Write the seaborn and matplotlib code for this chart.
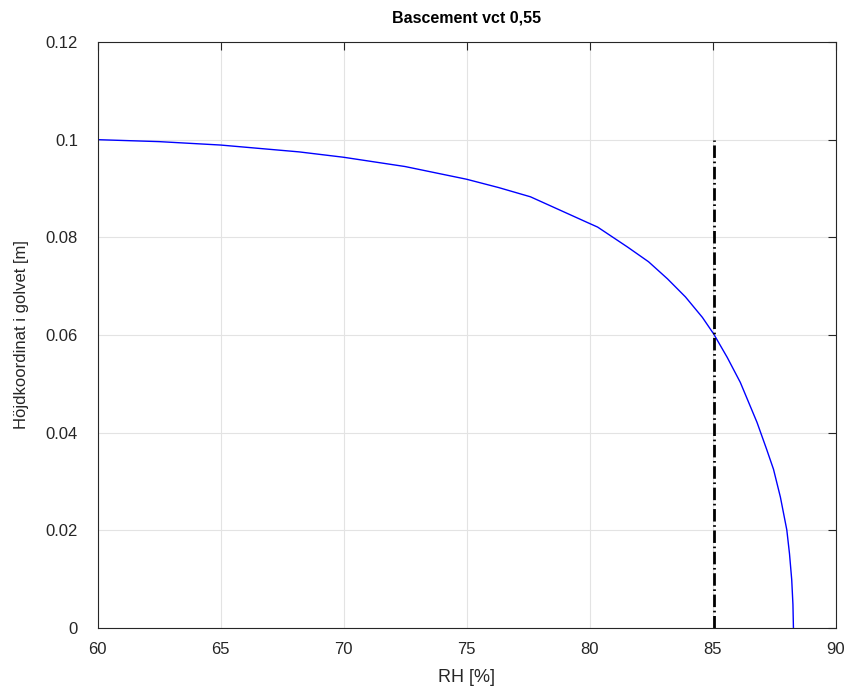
import matplotlib
matplotlib.use("Agg")
import matplotlib.pyplot as plt
import seaborn as sns
import pandas as pd

# Curve data (RH [%], height [m])
rh = [60.0, 62.5, 65.0, 68.19, 70.0, 72.5, 75.0, 76.3, 77.6, 79.93, 80.33,
      81.55, 82.4, 83.17, 83.9, 84.59, 85.05, 85.6, 86.13, 86.81, 87.20,
      87.48, 87.76, 88.02, 88.13, 88.22, 88.27, 88.29]
height = [0.1000, 0.0996, 0.0989, 0.0975, 0.0964, 0.0945, 0.0919, 0.0902,
          0.0883, 0.0830, 0.0821, 0.0780, 0.0750, 0.0715, 0.0678, 0.0636,
          0.0602, 0.0554, 0.0503, 0.0421, 0.0366, 0.0325, 0.0268, 0.0201,
          0.0152, 0.0099, 0.0048, 0.0]

# Critical RH line
crit_rh = [85.05, 85.05]
crit_h = [0.0, 0.1]

xticks = [60, 65, 70, 75, 80, 85, 90]
yticks = [0, 0.02, 0.04, 0.06, 0.08, 0.1, 0.12]
ytick_labels = ["0", "0.02", "0.04", "0.06", "0.08", "0.1", "0.12"]

sns.set_style("white")
plt.rcParams['font.family'] = ['Liberation Sans', 'DejaVu Sans']

fig = plt.figure(figsize=(8.46, 6.90), dpi=100)
ax = fig.add_axes([97.5/846, 1-628/690, (835.5-97.5)/846, (628-42)/690])

df = pd.DataFrame({"RH": rh, "h": height})
sns.lineplot(data=df, x="RH", y="h", sort=False, estimator=None, ax=ax,
             color="#0000ff", lw=1.0)
dfc = pd.DataFrame({"RH": crit_rh, "h": crit_h})
sns.lineplot(data=dfc, x="RH", y="h", sort=False, estimator=None, ax=ax,
             color="black", lw=2.0, linestyle=(0, (4.5, 1.3, 0.6, 1.3)))

ax.set_xlim(60, 90)
ax.set_ylim(0, 0.12)
ax.set_xticks(xticks)
ax.set_xticklabels([str(t) for t in xticks])
ax.set_yticks(yticks)
ax.set_yticklabels(ytick_labels)
ax.grid(True, color="#e3e3e3", lw=0.8)
ax.set_axisbelow(True)

ax.tick_params(direction="in", top=True, right=True, length=6, width=0.8,
               colors="#262626")
ax.tick_params(axis="x", labelsize=12, pad=10)
ax.tick_params(axis="y", labelsize=12, pad=14)
for s in ax.spines.values():
    s.set_color("#262626")
    s.set_linewidth(0.8)

ax.set_xlabel("RH [%]", fontsize=13, color="#262626", labelpad=9)
ax.set_ylabel("Höjdkoordinat i golvet [m]", fontsize=12, color="#262626", labelpad=12)
ax.set_title("Bascement vct 0,55", fontsize=11.5, fontweight="bold", color="black", pad=14)

fig.savefig("out.png", dpi=100)
